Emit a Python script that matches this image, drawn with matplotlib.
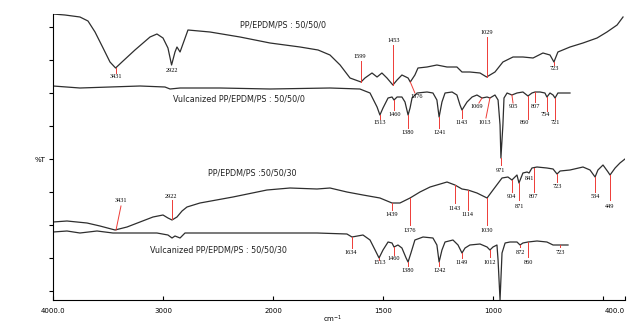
import matplotlib.pyplot as plt
import numpy as np

# IR spectra, wavenumber (cm-1) and transmittance (arbitrary offset units)
wn_a = [4000, 3891, 3755, 3682, 3618, 3545, 3482, 3431, 3373, 3255, 3118, 3055, 3000, 2955,
        2922, 2891, 2873, 2845, 2773, 2573, 2300, 2027, 1877, 1795, 1741, 1695, 1650, 1600,
        1582, 1550, 1527, 1505, 1482, 1455, 1436, 1414, 1386, 1376, 1355, 1341, 1300, 1255,
        1209, 1164, 1141, 1105, 1059, 1029, 991, 955, 909, 864, 818, 773, 741, 723, 705, 650,
        591, 527, 482, 436, 409]
t_a = [286, 285, 283, 279, 268, 252, 238, 232, 238, 250, 263, 266, 262, 252,
       235, 248, 253, 248, 270, 268, 263, 257, 253, 250, 245, 235, 222, 218,
       222, 227, 223, 227, 222, 215, 220, 225, 222, 218, 225, 232, 233, 235,
       233, 233, 228, 228, 227, 223, 228, 238, 243, 243, 242, 247, 245, 238, 248, 253,
       257, 262, 268, 275, 283]

wn_b = [4000, 3755, 3482, 3209, 2982, 2936, 2845, 2482, 2027, 1741, 1605, 1559, 1527, 1514,
        1500, 1477, 1459, 1450, 1436, 1414, 1400, 1386, 1377, 1368, 1345, 1300, 1273, 1255,
        1245, 1232, 1218, 1186, 1164, 1150, 1141, 1118, 1095, 1073, 1050, 1027, 1014, 991,
        977, 968, 964, 955, 950, 936, 914, 891, 864, 841, 823, 809, 786, 764, 755, 741, 727,
        718, 705, 664, 650]
t_b = [214, 212, 213, 214, 213, 211, 212, 212, 211, 212, 211, 207, 193, 185,
       192, 202, 203, 200, 203, 203, 198, 185, 192, 202, 207, 208, 207, 200,
       183, 198, 207, 208, 205, 195, 190, 198, 203, 205, 202, 203, 202, 205,
       200, 175, 142, 175, 202, 207, 205, 207, 208, 204, 207, 208, 208, 207, 203, 207, 205,
       202, 207, 207, 207]

wn_c = [4000, 3873, 3691, 3573, 3436, 3327, 3209, 3091, 3000, 2955, 2918, 2873, 2827, 2782,
        2664, 2364, 2055, 1923, 1800, 1741, 1664, 1591, 1514, 1459, 1423, 1377, 1332, 1286,
        1209, 1173, 1141, 1114, 1073, 1027, 1000, 959, 932, 914, 891, 882, 864, 845, 836,
        823, 800, 755, 727, 709, 695, 650, 591, 559, 536, 523, 500, 477, 468, 445, 423, 400]
t_c = [78, 79, 77, 74, 70, 73, 78, 83, 85, 82, 80, 83, 89, 93,
       97, 103, 110, 112, 111, 112, 108, 105, 102, 97, 97, 102, 108, 113,
       118, 115, 111, 110, 107, 102, 110, 122, 123, 120, 125, 117, 127, 128, 127,
       132, 133, 132, 131, 126, 129, 130, 133, 130, 123, 130, 135, 128, 125, 132, 137, 141]

wn_d = [4000, 3873, 3755, 3600, 3455, 3273, 3055, 2955, 2918, 2891, 2845, 2800, 2509, 2300,
        1800, 1664, 1641, 1591, 1559, 1536, 1518, 1500, 1477, 1459, 1450, 1432, 1414, 1395,
        1386, 1373, 1355, 1318, 1273, 1255, 1245, 1232, 1218, 1182, 1159, 1141, 1127, 1105,
        1059, 1027, 1014, 1000, 982, 977, 968, 959, 945, 923, 891, 877, 864, 841, 800, 755,
        727, 695, 659]
t_d = [68, 69, 67, 69, 67, 67, 67, 65, 62, 64, 62, 67, 67, 67,
       67, 66, 63, 65, 60, 50, 42, 50, 58, 57, 53, 55, 52, 42,
       38, 47, 60, 63, 62, 55, 38, 50, 58, 60, 55, 47, 52, 55,
       56, 53, 50, 53, 55, 40, 0, 47, 57, 58, 58, 55, 57, 58, 59, 58,
       55, 55, 55]

# peak marks: line from (wn, t0) to (wn_end, t1), label at (wn_txt, t_txt)
peaks_a = [(3431, 3431, 232, 227, 3431, 223, '3431'), (2922, 2922, 235, 235, 2922, 230, '2922'),
           (1600, 1600, 218, 239, 1605, 243, '1599'), (1455, 1455, 215, 255, 1450, 259, '1453'),
           (1376, 1355, 218, 207, 1348, 203, '1376'), (1029, 1029, 223, 263, 1027, 267, '1029'),
           (723, 723, 238, 235, 723, 231, '723')]
peaks_b = [(1514, 1514, 185, 181, 1514, 177, '1513'), (1450, 1450, 200, 190, 1446, 186, '1460'),
           (1386, 1386, 185, 172, 1386, 167, '1380'), (1245, 1245, 183, 172, 1241, 167, '1241'),
           (1141, 1141, 190, 182, 1141, 177, '1143'), (1050, 1064, 202, 197, 1073, 193, '1069'),
           (1014, 1032, 202, 182, 1036, 177, '1013'), (964, 964, 142, 135, 964, 130, '971'),
           (914, 909, 205, 197, 909, 193, '905'), (841, 841, 204, 181, 859, 177, '860'),
           (809, 809, 208, 198, 809, 193, '807'), (755, 755, 203, 189, 764, 185, '754'),
           (718, 718, 202, 181, 718, 177, '721')]
peaks_c = [(3427, 3382, 70, 94, 3382, 99, '3431'), (2918, 2918, 81, 100, 2927, 104, '2922'),
           (1459, 1459, 97, 90, 1459, 85, '1439'), (1377, 1377, 102, 75, 1377, 70, '1376'),
           (1173, 1173, 115, 97, 1173, 92, '1143'), (1114, 1114, 110, 90, 1114, 85, '1114'),
           (1027, 1027, 102, 75, 1027, 70, '1030'), (914, 914, 120, 108, 914, 103, '904'),
           (882, 882, 117, 100, 882, 94, '871'), (836, 836, 127, 127, 836, 122, '841'),
           (814, 814, 132, 108, 814, 103, '807'), (709, 709, 126, 118, 709, 113, '723'),
           (536, 536, 123, 108, 536, 103, '534'), (468, 468, 125, 100, 468, 94, '449')]
peaks_d = [(1641, 1641, 63, 52, 1645, 47, '1634'), (1518, 1518, 42, 40, 1514, 37, '1513'),
           (1450, 1450, 53, 45, 1450, 41, '1460'), (1386, 1386, 38, 34, 1386, 30, '1380'),
           (1245, 1245, 38, 34, 1241, 30, '1242'), (1141, 1141, 47, 42, 1141, 38, '1149'),
           (1014, 1014, 50, 43, 1014, 38, '1012'), (877, 877, 55, 53, 877, 48, '872'),
           (841, 841, 58, 43, 841, 38, '860'), (695, 695, 55, 53, 695, 48, '723')]

names = ['PP/EPDM/PS : 50/50/0', 'Vulcanized PP/EPDM/PS : 50/50/0',
         'PP/EPDM/PS :50/50/30', 'Vulcanized PP/EPDM/PS : 50/50/30']
name_pos = [(2300, 275), (2909, 201), (2591, 127), (3118, 50)]

xticks = [4000, 3000, 2000, 1500, 1000, 500, 400]
xtick_labels = ['4000.0', '3000', '2000', '1500', '1000', '', '400.0']


# above 2000 cm-1 the axis is compressed by a factor 2
def fwd(w):
    w = np.asarray(w, dtype=float)
    return np.where(w <= 2000, w, 2000 + (w - 2000) / 2)


def inv(v):
    v = np.asarray(v, dtype=float)
    return np.where(v <= 2000, v, 2000 + (v - 2000) * 2)


fig = plt.figure(figsize=(6.32, 3.27), dpi=100)
ax = fig.add_axes([53 / 632, 27 / 327, 572 / 632, 286 / 327])
ax.set_xscale('function', functions=(fwd, inv))
ax.set_xlim(4000, 400)
ax.set_ylim(0, 286)

red = '#ee3b36'
for wn, t, peaks in [(wn_a, t_a, peaks_a), (wn_b, t_b, peaks_b), (wn_c, t_c, peaks_c), (wn_d, t_d, peaks_d)]:
    ax.plot(wn, t, color='#2e2e2e', lw=0.9)
    for w0, w1, t0, t1, wt, tt, lab in peaks:
        if t0 != t1:
            ax.plot([w0, w1], [t0, t1], color=red, lw=0.7)
        ax.text(wt, tt, lab, fontsize=4.5, family='Liberation Serif', ha='center', va='center')

for name, (x, y) in zip(names, name_pos):
    ax.text(x, y, name, fontsize=5.8, ha='left', va='center', color='#222222')

ax.spines['top'].set_visible(False)
ax.spines['right'].set_visible(False)
ax.set_xticks(xticks)
ax.set_xticklabels(xtick_labels)
ax.xaxis.set_minor_locator(plt.NullLocator())
ax.tick_params(axis='x', direction='in', length=3, labelsize=5, pad=6)
ax.get_xticklabels()[-1].set_horizontalalignment('right')
ax.set_yticks(np.arange(9, 280, 33))
ax.set_yticklabels([])
ax.tick_params(axis='y', direction='out', length=3)

fig.text(333 / 632, 1 - 319 / 327, 'cm$^{-1}$', fontsize=5, ha='center', va='center')
fig.text(40 / 632, 1 - 160 / 327, '%T', fontsize=5, ha='center', va='center')

fig.savefig('out.png', dpi=100)
